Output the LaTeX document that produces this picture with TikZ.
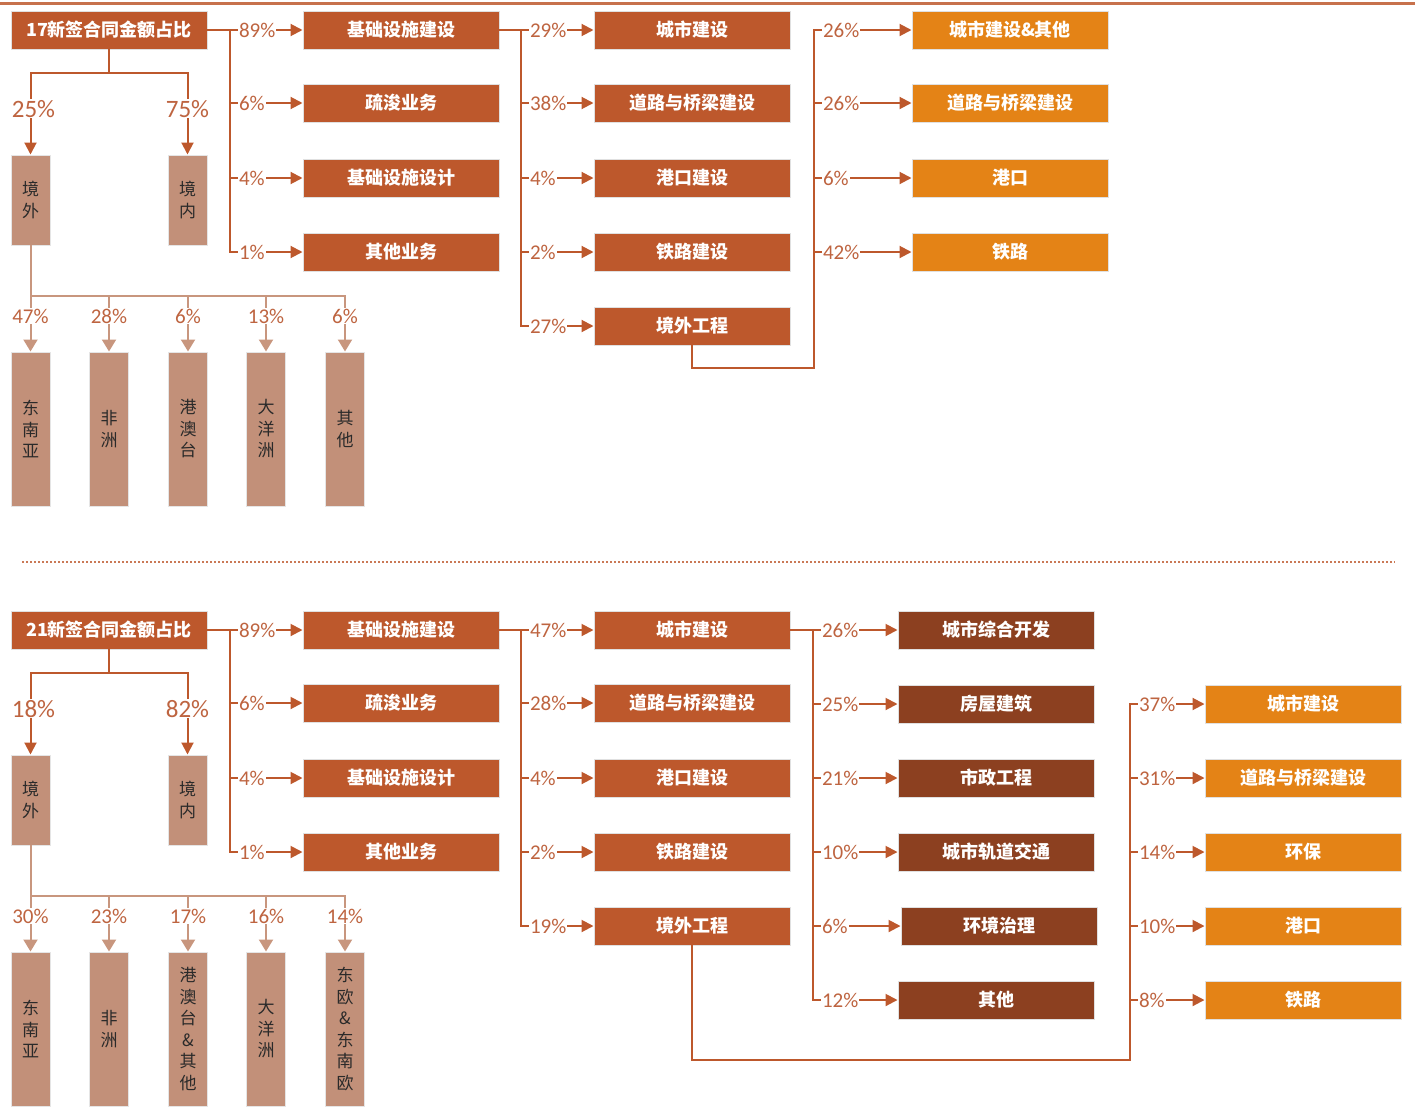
\documentclass[tikz,border=0pt]{standalone}
\usepackage{fontspec}
\setmainfont{Carlito}
\newfontfamily\cjk{Noto Sans CJK SC}
\usetikzlibrary{arrows.meta,positioning}
\definecolor{naranjaOsc}{HTML}{BD582C}
\definecolor{marronOsc}{HTML}{8C4020}
\definecolor{naranjaVivo}{HTML}{E48316}
\definecolor{tostado}{HTML}{C29079}
\definecolor{tostadoLinea}{HTML}{C8967E}
\definecolor{textoPct}{HTML}{BE6440}
\definecolor{textoOsc}{HTML}{2A2A2A}

\begin{document}
\begin{tikzpicture}[x=1pt, y=-1pt,
    caja/.style={rectangle, fill=naranjaOsc, draw=black!12, line width=1pt,
                 minimum width=196pt, minimum height=38pt, inner sep=0pt,
                 text=white, font=\cjk\bfseries\fontsize{18}{20}\selectfont},
    cajam/.style={caja, fill=marronOsc},
    cajan/.style={caja, fill=naranjaVivo},
    cajat/.style={rectangle, fill=tostado, draw=black!10, line width=1pt,
                  minimum width=39pt, inner sep=0pt, align=center, text=textoOsc,
                  font=\cjk\fontsize{17}{21.5}\selectfont},
    linea/.style={line width=2pt, draw=naranjaOsc, line cap=rect},
    flecha/.style={linea, -{Triangle[length=12pt, width=12pt]}},
    lineat/.style={line width=2pt, draw=tostadoLinea, line cap=rect},
    flechat/.style={lineat, -{Triangle[length=12pt, width=14pt]}},
    pct/.style={fill=white, inner sep=1pt, text=textoPct, font=\fontsize{21}{21}\selectfont},
    pctg/.style={pct, font=\fontsize{25}{25}\selectfont}
  ]
  \useasboundingbox (0,0) rectangle (1415,1106);
  \draw[line width=3pt, draw=naranjaOsc!85] (0,3) -- (1415,3);

  % ---------------- 2017 ----------------
  \node[caja] (tit17) at (109,30) {17新签合同金额占比};
  \node[cajat, minimum height=90pt] (ext17) at (30.5,200) {境\\外};
  \node[cajat, minimum height=90pt] (int17) at (187.5,200) {境\\内};
  \draw[linea] (tit17.south) -- ++(0,23) coordinate (rama17);
  \draw[flecha] (rama17) -| node[pctg, pos=0.72, xshift=3pt] (p25) {25\%} (ext17.north);
  \draw[flecha] (rama17) -| node[pctg, pos=0.72] (p75) {75\%} (int17.north);

  % Regiones (境外)
  \foreach \n/\x/\txt in {sea/30.5/东\\南\\亚, afr/109/非\\洲, hk/188/港\\澳\\台, oce/266/大\\洋\\洲, otr/345/其\\他}
    \node[cajat, minimum height=154pt] (\n17) at (\x,429) {\txt};
  \coordinate (bt17) at (30.5,296);
  \draw[lineat] (ext17.south) -- (bt17) -- (bt17 -| otr17.north);
  \foreach \n/\p in {sea/47, afr/28, hk/6, oce/13, otr/6}
    \draw[flechat] (bt17 -| \n17.north) -- node[pct, pos=0.36] (q\n17) {\p\%} (\n17.north);

  % Segmentos
  \foreach \n/\y/\txt in {infra/30/基础设施建设, drag/103/疏浚业务, dis/178/基础设施设计, otro/252/其他业务}
    \node[caja] (\n17) at (401,\y) {\txt};
  \coordinate (ba17) at (230,30);
  \draw[linea] (tit17.east) -- (ba17) -- (ba17 |- otro17.west);
  \foreach \n/\p in {infra/89, drag/6, dis/4, otro/1}
    \draw[flecha] (ba17 |- \n17.west) -- node[pct, at start, anchor=west, xshift=7pt] (r\n17) {\p\%} (\n17.west);

  % Infraestructura
  \foreach \n/\y/\txt in {city/30/城市建设, road/103/道路与桥梁建设, port/178/港口建设, rail/252/铁路建设, abroad/326/境外工程}
    \node[caja] (\n17) at (692,\y) {\txt};
  \coordinate (bb17) at (521,30);
  \draw[linea] (infra17.east) -- (bb17) -- (bb17 |- abroad17.west);
  \foreach \n/\p in {city/29, road/38, port/4, rail/2, abroad/27}
    \draw[flecha] (bb17 |- \n17.west) -- node[pct, at start, anchor=west, xshift=7pt] (r\n17) {\p\%} (\n17.west);

  % Proyectos en el exterior
  \foreach \n/\y/\txt in {xa/30/城市建设\&其他, xb/103/道路与桥梁建设, xc/178/港口, xd/252/铁路}
    \node[cajan] (\n17) at (1010,\y) {\txt};
  \coordinate (bc17) at (814,368);
  \draw[linea] (abroad17.south) |- (bc17) -- (bc17 |- xa17.west);
  \foreach \n/\p in {xa/26, xb/26, xc/6, xd/42}
    \draw[flecha] (bc17 |- \n17.west) -- node[pct, at start, anchor=west, xshift=7pt] (r\n17) {\p\%} (\n17.west);

  % Separador
  \draw[naranjaOsc!80, line width=1.5pt, dash pattern=on 1.5pt off 2.5pt] (22,562) -- (1395,562);

  % ---------------- 2021 ----------------
  \node[caja] (tit21) at (109,630) {21新签合同金额占比};
  \node[cajat, minimum height=90pt] (ext21) at (30.5,800) {境\\外};
  \node[cajat, minimum height=90pt] (int21) at (187.5,800) {境\\内};
  \draw[linea] (tit21.south) -- ++(0,23) coordinate (rama21);
  \draw[flecha] (rama21) -| node[pctg, pos=0.72, xshift=3pt] (p18) {18\%} (ext21.north);
  \draw[flecha] (rama21) -| node[pctg, pos=0.72] (p82) {82\%} (int21.north);

  % Regiones (境外)
  \foreach \n/\x/\txt in {sea/30.5/东\\南\\亚, afr/109/非\\洲, hk/188/港\\澳\\台\\\&\\其\\他, oce/266/大\\洋\\洲, eur/345/东\\欧\\\&\\东\\南\\欧}
    \node[cajat, minimum height=154pt] (\n21) at (\x,1029) {\txt};
  \coordinate (bt21) at (30.5,896);
  \draw[lineat] (ext21.south) -- (bt21) -- (bt21 -| eur21.north);
  \foreach \n/\p in {sea/30, afr/23, hk/17, oce/16, eur/14}
    \draw[flechat] (bt21 -| \n21.north) -- node[pct, pos=0.36] (q\n21) {\p\%} (\n21.north);

  % Segmentos
  \foreach \n/\y/\txt in {infra/630/基础设施建设, drag/703/疏浚业务, dis/778/基础设施设计, otro/852/其他业务}
    \node[caja] (\n21) at (401,\y) {\txt};
  \coordinate (ba21) at (230,630);
  \draw[linea] (tit21.east) -- (ba21) -- (ba21 |- otro21.west);
  \foreach \n/\p in {infra/89, drag/6, dis/4, otro/1}
    \draw[flecha] (ba21 |- \n21.west) -- node[pct, at start, anchor=west, xshift=7pt] (r\n21) {\p\%} (\n21.west);

  % Infraestructura
  \foreach \n/\y/\txt in {city/630/城市建设, road/703/道路与桥梁建设, port/778/港口建设, rail/852/铁路建设, abroad/926/境外工程}
    \node[caja] (\n21) at (692,\y) {\txt};
  \coordinate (bb21) at (521,630);
  \draw[linea] (infra21.east) -- (bb21) -- (bb21 |- abroad21.west);
  \foreach \n/\p in {city/47, road/28, port/4, rail/2, abroad/19}
    \draw[flecha] (bb21 |- \n21.west) -- node[pct, at start, anchor=west, xshift=7pt] (r\n21) {\p\%} (\n21.west);

  % Construcción urbana
  \foreach \n/\x/\y/\txt in {ua/996/630/城市综合开发, ub/996/704/房屋建筑, uc/996/778/市政工程, ud/996/852/城市轨道交通, ue/999/926/环境治理, uf/996/1000/其他}
    \node[cajam] (\n21) at (\x,\y) {\txt};
  \coordinate (bc21) at (813,630);
  \draw[linea] (city21.east) -- (bc21) -- (bc21 |- uf21.west);
  \foreach \n/\p in {ua/26, ub/25, uc/21, ud/10, ue/6, uf/12}
    \draw[flecha] (bc21 |- \n21.west) -- node[pct, at start, anchor=west, xshift=7pt] (r\n21) {\p\%} (\n21.west);

  % Proyectos en el exterior
  \foreach \n/\y/\txt in {xa/704/城市建设, xb/778/道路与桥梁建设, xc/852/环保, xd/926/港口, xe/1000/铁路}
    \node[cajan] (\n21) at (1303,\y) {\txt};
  \coordinate (bd21) at (1130,1060);
  \draw[linea] (abroad21.south) |- (bd21) -- (bd21 |- xa21.west);
  \foreach \n/\p in {xa/37, xb/31, xc/14, xd/10, xe/8}
    \draw[flecha] (bd21 |- \n21.west) -- node[pct, at start, anchor=west, xshift=7pt] (r\n21) {\p\%} (\n21.west);
\end{tikzpicture}
\end{document}
